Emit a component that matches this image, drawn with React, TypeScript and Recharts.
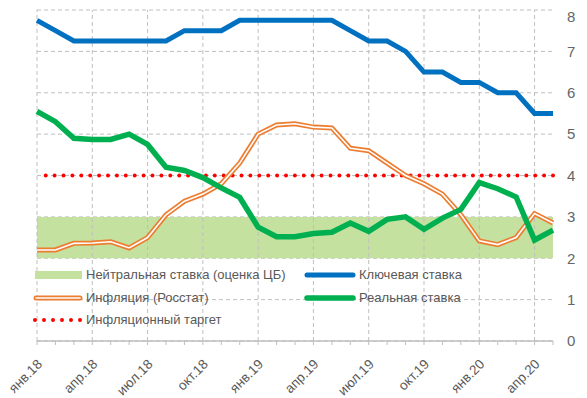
import React from 'react';
import { LineChart, Line, XAxis, YAxis, CartesianGrid, ReferenceArea, ReferenceLine } from 'recharts';

const months = [
  'янв.18', 'фев.18', 'мар.18', 'апр.18', 'май.18', 'июн.18', 'июл.18', 'авг.18', 'сен.18', 'окт.18', 'ноя.18', 'дек.18',
  'янв.19', 'фев.19', 'мар.19', 'апр.19', 'май.19', 'июн.19', 'июл.19', 'авг.19', 'сен.19', 'окт.19', 'ноя.19', 'дек.19',
  'янв.20', 'фев.20', 'мар.20', 'апр.20', 'май.20',
];

const keyRate = [
  7.75, 7.5, 7.25, 7.25, 7.25, 7.25, 7.25, 7.25, 7.5, 7.5, 7.5, 7.75,
  7.75, 7.75, 7.75, 7.75, 7.75, 7.5, 7.25, 7.25, 7.0, 6.5, 6.5, 6.25,
  6.25, 6.0, 6.0, 5.5, 5.5,
];

const inflation = [
  2.2, 2.2, 2.36, 2.37, 2.4, 2.25, 2.5, 3.05, 3.38, 3.55, 3.8, 4.3,
  5.0, 5.22, 5.25, 5.17, 5.15, 4.66, 4.6, 4.3, 4.0, 3.8, 3.55, 3.05,
  2.42, 2.33, 2.5, 3.08, 2.85,
];

const realRate = [
  5.55, 5.3, 4.9, 4.87, 4.87, 5.0, 4.75, 4.2, 4.12, 3.95, 3.7, 3.47,
  2.75, 2.52, 2.52, 2.6, 2.63, 2.85, 2.65, 2.94, 3.0, 2.7, 2.97, 3.18,
  3.83, 3.68, 3.48, 2.44, 2.68,
];

const neutralRange = [2, 3];
const inflationTarget = 4;
const yTicks = [0, 1, 2, 3, 4, 5, 6, 7, 8];
const quarterLabels = ['янв.18', 'апр.18', 'июл.18', 'окт.18', 'янв.19', 'апр.19', 'июл.19', 'окт.19', 'янв.20', 'апр.20'];

const data = months.map((m, i) => ({
  month: m,
  key: keyRate[i],
  infl: inflation[i],
  real: realRate[i],
}));

const FONT = '"Liberation Sans", Arial, sans-serif';
const TEXT = '#595959';
const GRID = '#bfbfbf';

const MonthTick = (props: any) => {
  const { x, y, payload, index } = props;
  if (index % 3 !== 0) return null;
  const tx = x + 6;
  const ty = y + 18;
  return (
    <text
      x={tx}
      y={ty}
      textAnchor="end"
      fill={TEXT}
      fontSize={13.5}
      fontFamily={FONT}
      transform={`rotate(-45, ${tx}, ${ty})`}
    >
      {payload.value}
    </text>
  );
};

const legendText: React.CSSProperties = {
  position: 'absolute',
  fontFamily: FONT,
  fontSize: 13,
  color: TEXT,
  lineHeight: '16px',
  whiteSpace: 'nowrap',
};

const App = () => {
  return (
    <div style={{ position: 'relative', width: 571, height: 390 }}>
      <LineChart width={571} height={390} data={data} margin={{ top: 2, right: 0, bottom: 0, left: 29 }}>
        <ReferenceArea y1={neutralRange[0]} y2={neutralRange[1]} fill="#c4e1a0" fillOpacity={1} stroke="none" ifOverflow="hidden" />
        <CartesianGrid vertical={false} stroke={GRID} strokeDasharray="4 3" />
        {quarterLabels.map(q => (
          <ReferenceLine key={q} x={q} stroke={GRID} strokeDasharray="4 3" />
        ))}
        <XAxis
          dataKey="month"
          interval={0}
          height={57}
          tick={<MonthTick />}
          tickLine={{ stroke: GRID }}
          tickSize={4}
          axisLine={{ stroke: GRID, strokeWidth: 1.5 }}
          padding={{ left: 0, right: 0 }}
        />
        <YAxis
          orientation="right"
          width={26}
          domain={[0, 8]}
          ticks={yTicks}
          tickLine={false}
          axisLine={false}
          tickSize={6}
          tickMargin={8}
          tick={{ fill: '#666666', fontSize: 15, fontFamily: FONT }}
        />
        <ReferenceLine
          y={inflationTarget}
          stroke="#ff0000"
          strokeWidth={4}
          strokeLinecap="round"
          strokeDasharray="0 8.9"
        />
        <Line dataKey="infl" stroke="#ed7d31" strokeWidth={5} dot={false} isAnimationActive={false} />
        <Line dataKey="infl" stroke="#ffffff" strokeWidth={1.6} dot={false} isAnimationActive={false} />
        <Line dataKey="key" stroke="#0070c0" strokeWidth={5} dot={false} isAnimationActive={false} />
        <Line dataKey="real" stroke="#00b050" strokeWidth={5.5} dot={false} isAnimationActive={false} />
      </LineChart>

      <svg style={{ position: 'absolute', left: 0, top: 0, pointerEvents: 'none' }} width={571} height={390}>
        <rect x={27} y={263} width={47} height={8} fill="#c4e1a0" />
        <line x1={28} y1={290} x2={72} y2={290} stroke="#ed7d31" strokeWidth={5} strokeLinecap="round" />
        <line x1={28} y1={290} x2={72} y2={290} stroke="#ffffff" strokeWidth={1.6} strokeLinecap="round" />
        <line x1={27} y1={312} x2={73} y2={312} stroke="#ff0000" strokeWidth={4} strokeLinecap="round" strokeDasharray="0 9" />
        <line x1={299} y1={267} x2={345} y2={267} stroke="#0070c0" strokeWidth={5} strokeLinecap="round" />
        <line x1={299} y1={290} x2={345} y2={290} stroke="#00b050" strokeWidth={5.5} strokeLinecap="round" />
      </svg>
      <div style={{ ...legendText, left: 78, top: 259 }}>Нейтральная ставка (оценка ЦБ)</div>
      <div style={{ ...legendText, left: 78, top: 282 }}>Инфляция (Росстат)</div>
      <div style={{ ...legendText, left: 78, top: 304 }}>Инфляционный таргет</div>
      <div style={{ ...legendText, left: 351, top: 259 }}>Ключевая ставка</div>
      <div style={{ ...legendText, left: 351, top: 282 }}>Реальная ставка</div>
    </div>
  );
};

export default App;
